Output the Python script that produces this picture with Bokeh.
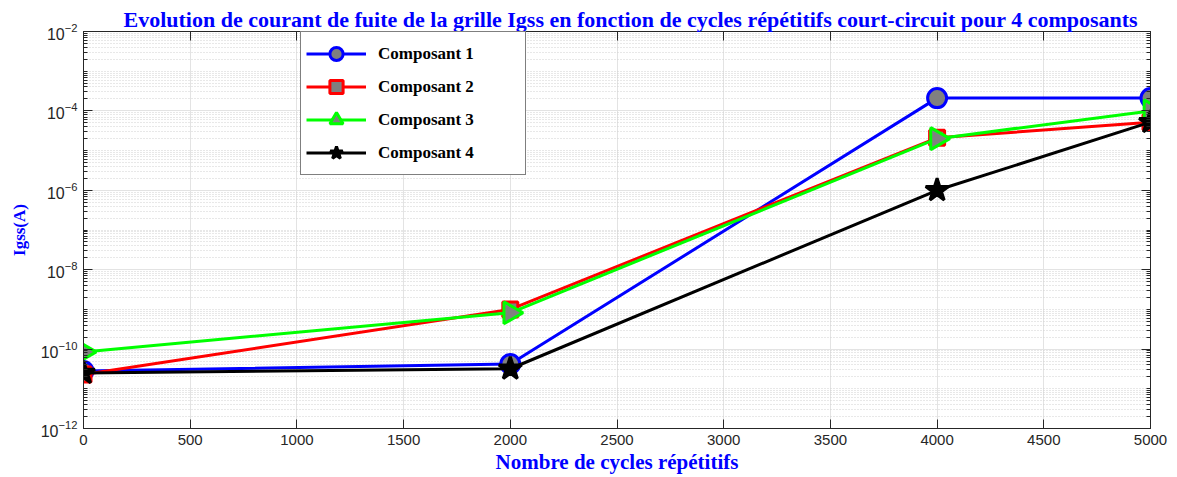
import numpy as np
from bokeh.plotting import figure
from bokeh.models import (FixedTicker, LogAxis, LinearAxis, Legend, LegendItem, Title)
from bokeh.embed import file_html
from bokeh.resources import INLINE

cycles = [0, 2000, 4000, 5000]
comp1 = [2.8e-11, 4.2e-11, 2.1e-4, 2.1e-4]
comp2 = [2.3e-11, 1.0e-9, 2.1e-5, 5.2e-5]
comp3 = [8.5e-11, 8.2e-10, 2.0e-5, 1.0e-4]
comp4 = [2.5e-11, 3.2e-11, 1.0e-6, 5.2e-5]
names = ["Composant 1", "Composant 2", "Composant 3", "Composant 4"]
x_ticks = [0, 500, 1000, 1500, 2000, 2500, 3000, 3500, 4000, 4500, 5000]
y_ticks = [1e-12, 1e-10, 1e-8, 1e-6, 1e-4, 1e-2]

TXT = "#262626"
SERIF = "Liberation Serif"

p = figure(width=1170, height=477, y_axis_type="log",
           x_range=(0, 5000), y_range=(1e-12, 1e-2),
           output_backend="svg", toolbar_location=None,
           min_border_left=83, min_border_right=20,
           min_border_top=31, min_border_bottom=49)
p.title = Title(text="Evolution de courant de fuite de la grille Igss en fonction de cycles répétitifs court-circuit pour 4 composants",
                text_font=SERIF, text_font_style="bold", text_font_size="22px",
                text_color="#0000FF", align="left", offset=40, standoff=0)

minor = [m * 10.0 ** k for k in range(-12, -2) for m in range(1, 10) if not (m == 1 and k % 2 == 0)]
yt = FixedTicker(ticks=y_ticks, minor_ticks=minor)
xt = FixedTicker(ticks=x_ticks)

p.xaxis.ticker = xt
p.yaxis.ticker = yt
p.xgrid.ticker = xt
p.ygrid.ticker = yt

for g in (p.xgrid, p.ygrid):
    g.grid_line_color = "#e3e3e3"
    g.grid_line_width = 1
p.ygrid.minor_grid_line_color = "#d0d0d0"
p.ygrid.minor_grid_line_dash = "1 2"

p.outline_line_color = TXT
p.outline_line_width = 1

def style_axis(ax, labels=True, size="15px"):
    ax.axis_line_color = TXT
    ax.major_tick_line_color = TXT
    ax.minor_tick_line_color = TXT
    ax.major_tick_in = 9
    ax.major_tick_out = 0
    ax.minor_tick_in = 4
    ax.minor_tick_out = 0
    ax.major_label_text_font = "Liberation Sans"
    ax.major_label_text_font_size = size
    ax.major_label_text_color = TXT
    if not labels:
        ax.major_label_text_font_size = "2px"
        ax.major_label_text_alpha = 0
        ax.major_label_standoff = 0

style_axis(p.xaxis[0])
style_axis(p.yaxis[0], size="16px")
p.xaxis.minor_tick_in = 0
p.xaxis.major_label_standoff = 6
p.yaxis.major_label_standoff = 6

p.xaxis.axis_label = "Nombre de cycles répétitifs"
p.yaxis.axis_label = "Igss(A)"
for ax in (p.xaxis[0], p.yaxis[0]):
    ax.axis_label_text_font = SERIF
    ax.axis_label_text_font_style = "bold"
    ax.axis_label_text_color = "#0000FF"
p.xaxis.axis_label_text_font_size = "21px"
p.yaxis.axis_label_text_font_size = "17px"
p.xaxis.axis_label_standoff = 2
p.yaxis.axis_label_standoff = 9

ra = LogAxis(ticker=yt)
style_axis(ra, labels=False)
ta = LinearAxis(ticker=xt)
style_axis(ta, labels=False)
ta.minor_tick_in = 0
p.add_layout(ra, "right")
p.add_layout(ta, "above")

colors = ["#0000FF", "#FF0000", "#00FF00", "#000000"]
markers = ["circle", "square", "triangle", "star"]
sizes = [19, 15, 22, 24]
angles = [0, 0, -np.pi / 2, 0]
series = [comp1, comp2, comp3, comp4]
items = []
for name, ys, c, mk, sz, ang in zip(names, series, colors, markers, sizes, angles):
    ln = p.line(cycles, ys, line_color=c, line_width=3)
    sc = p.scatter(cycles, ys, marker=mk, size=sz, angle=ang,
                   fill_color="#808080" if mk != "star" else "#000000",
                   line_color=c, line_width=3)
    items.append(LegendItem(label=name, renderers=[ln, sc]))

leg = Legend(items=items, location=(217, 253))
leg.label_text_font = SERIF
leg.label_text_font_style = "bold"
leg.label_text_font_size = "17px"
leg.label_text_color = "#000000"
leg.border_line_color = "#000000"
leg.border_line_width = 1
leg.background_fill_alpha = 1
leg.padding = 5
leg.spacing = 0
leg.margin = 0
leg.glyph_width = 60
leg.glyph_height = 33
leg.label_height = 20
leg.label_width = 142
leg.label_standoff = 12
p.add_layout(leg, "center")

open("out.html", "w").write(file_html(p, INLINE))
